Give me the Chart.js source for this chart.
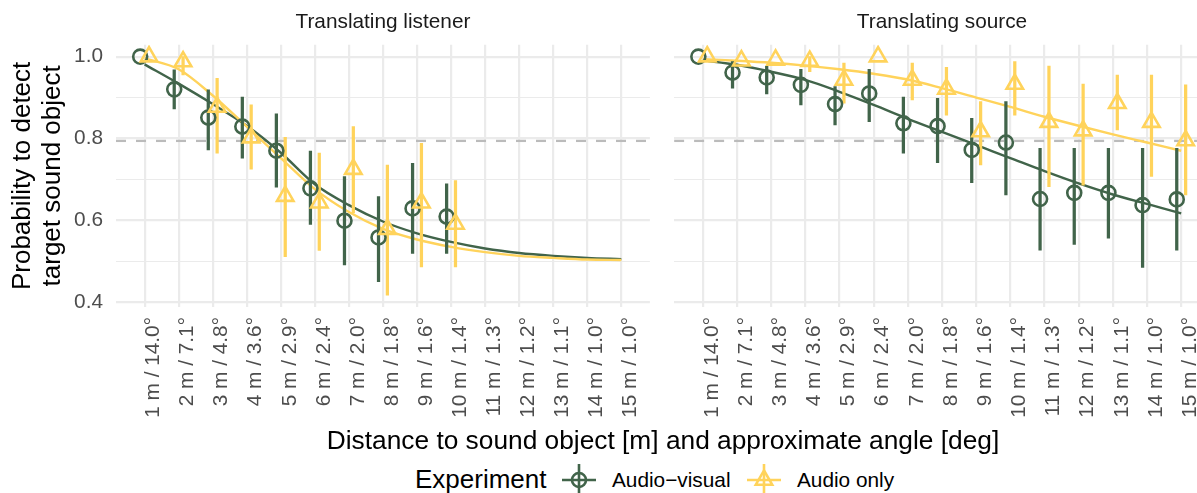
<!DOCTYPE html>
<html>
<head>
<meta charset="utf-8">
<title>Detection probability by distance</title>
<script src="https://cdn.jsdelivr.net/npm/chart.js@4.4.1/dist/chart.umd.min.js"></script>
<style>
  html, body { margin: 0; padding: 0; background: #fff; overflow: hidden; }
  #fig { position: relative; width: 1197px; height: 493px; overflow: hidden;
         font-family: "Liberation Sans", Arial, sans-serif; }
  #panelListener { position: absolute; left: 0; top: 0; }
  #panelSource { position: absolute; left: 662px; top: 0; }
  #xTitle { position: absolute; left: 116px; width: 1094px; top: 425px; line-height: 30px;
            text-align: center; font-size: 26.3px; color: #000; white-space: nowrap; }
  .leg { position: absolute; white-space: nowrap; }
  .legTitle { font-size: 26px; line-height: 30px; color: #000; }
  .legLabel { font-size: 20.8px; line-height: 24px; color: #000; }
</style>
</head>
<body>
<div id="fig">
  <canvas id="panelListener" width="662" height="440"></canvas>
  <canvas id="panelSource" width="560" height="440"></canvas>
  <div id="xTitle">Distance to sound object [m] and approximate angle [deg]</div>
  <div class="leg legTitle" style="left:415px; top:464px;">Experiment</div>
  <svg class="leg" style="left:562px; top:464px;" width="34" height="32">
    <line x1="0" y1="16" x2="34" y2="16" stroke="#41644A" stroke-width="2.6"/>
    <line x1="17" y1="0" x2="17" y2="32" stroke="#41644A" stroke-width="2.6"/>
    <circle cx="17" cy="16" r="7" fill="none" stroke="#41644A" stroke-width="2.6"/>
  </svg>
  <div class="leg legLabel" style="left:612px; top:468px;">Audio−visual</div>
  <svg class="leg" style="left:747px; top:464px;" width="34" height="32">
    <line x1="0" y1="16" x2="34" y2="16" stroke="#FFD35B" stroke-width="2.6"/>
    <line x1="17" y1="0" x2="17" y2="32" stroke="#FFD35B" stroke-width="2.6"/>
    <polygon points="17,6.5 25.2,20.7 8.8,20.7" fill="none" stroke="#FFD35B" stroke-width="2.6"/>
  </svg>
  <div class="leg legLabel" style="left:797px; top:468px;">Audio only</div>
</div>
<script>
// categories and axis labels
const distances = [1, 2, 3, 4, 5, 6, 7, 8, 9, 10, 11, 12, 13, 14, 15];
const xLabels = ['1 m / 14.0°', '2 m / 7.1°', '3 m / 4.8°', '4 m / 3.6°', '5 m / 2.9°',
  '6 m / 2.4°', '7 m / 2.0°', '8 m / 1.8°', '9 m / 1.6°', '10 m / 1.4°',
  '11 m / 1.3°', '12 m / 1.2°', '13 m / 1.1°', '14 m / 1.0°', '15 m / 1.0°'];
const yTickLabels = [0.4, 0.6, 0.8, 1.0];
const threshold = 0.794;

// Translating listener (measured distances 1-10 m)
const listenerAVMean = [1.0, 0.92, 0.851, 0.829, 0.77, 0.678, 0.599, 0.558, 0.629, 0.609];
const listenerAVLow  = [null, 0.872, 0.772, 0.752, 0.681, 0.59, 0.491, 0.45, 0.519, 0.519];
const listenerAVHigh = [null, 0.968, 0.919, 0.901, 0.86, 0.769, 0.707, 0.658, 0.739, 0.689];
const listenerAOMean = [1.0, 0.988, 0.877, 0.802, 0.659, 0.643, 0.725, 0.578, 0.643, 0.591];
const listenerAOLow  = [null, 0.955, 0.764, 0.725, 0.511, 0.526, 0.618, 0.417, 0.486, 0.486];
const listenerAOHigh = [null, 1.0, 0.947, 0.882, 0.803, 0.764, 0.829, 0.735, 0.788, 0.697];
const listenerAVFit = [0.981, 0.934, 0.884, 0.831, 0.765, 0.688, 0.637, 0.597, 0.568, 0.547, 0.531, 0.52, 0.513, 0.508, 0.505];
const listenerAOFit = [0.996, 0.969, 0.905, 0.829, 0.752, 0.676, 0.62, 0.579, 0.553, 0.535, 0.522, 0.513, 0.508, 0.504, 0.503];

// Translating source (distances 1-15 m)
const sourceAVMean = [1.0, 0.961, 0.949, 0.931, 0.884, 0.91, 0.837, 0.83, 0.772, 0.79, 0.652, 0.667, 0.667, 0.637, 0.651];
const sourceAVLow  = [null, 0.923, 0.909, 0.882, 0.833, 0.841, 0.764, 0.741, 0.692, 0.662, 0.527, 0.541, 0.556, 0.485, 0.527];
const sourceAVHigh = [null, 0.988, 0.976, 0.969, 0.927, 0.969, 0.901, 0.898, 0.849, 0.89, 0.776, 0.776, 0.776, 0.776, 0.776];
const sourceAOMean = [1.0, 0.99, 0.992, 0.989, 0.943, 1.0, 0.943, 0.921, 0.817, 0.933, 0.84, 0.819, 0.886, 0.84, 0.795];
const sourceAOLow  = [null, null, null, 0.963, 0.886, null, 0.894, 0.857, 0.735, 0.857, 0.682, 0.686, 0.821, 0.707, 0.662];
const sourceAOHigh = [null, null, null, 1.0, 0.984, null, 0.984, 0.974, 0.89, 0.988, 0.977, 0.933, 0.955, 0.955, 0.931];
const sourceAVFit = [0.991, 0.98, 0.963, 0.943, 0.914, 0.882, 0.848, 0.816, 0.784, 0.752, 0.72, 0.69, 0.663, 0.64, 0.617];
const sourceAOFit = [0.994, 0.99, 0.985, 0.978, 0.969, 0.958, 0.944, 0.923, 0.9, 0.877, 0.853, 0.831, 0.81, 0.79, 0.77];

const GREEN = '#41644A';
const YELLOW = '#FFD35B';
const xMin = 0.16, xMax = 15.84;
const yMin = 0.388, yMax = 1.029;
const dodge = 0.13;

Chart.defaults.font.family = '"Liberation Sans", Arial, sans-serif';

function pointData(mean, shift) {
  return mean.map((m, i) => ({ x: distances[i] + shift, y: m }));
}

function barData(low, high, shift) {
  const out = [];
  low.forEach((lo, i) => {
    if (lo !== null && high[i] !== null) out.push({ x: distances[i] + shift, y: [lo, high[i]] });
  });
  return out;
}

function lineData(values) {
  return values.map((v, i) => ({ x: distances[i], y: v }));
}

function makePanel(canvasId, title, d, showY, rightPad) {
  const ctx = document.getElementById(canvasId).getContext('2d');
  return new Chart(ctx, {
    type: 'scatter',
    data: {
      datasets: [
        { type: 'scatter', data: pointData(d.aoMean, dodge), pointStyle: 'triangle', pointRadius: 9.5,
          borderColor: YELLOW, backgroundColor: 'rgba(0,0,0,0)', borderWidth: 2.6, order: 0 },
        { type: 'scatter', data: pointData(d.avMean, -dodge), pointStyle: 'circle', pointRadius: 7,
          borderColor: GREEN, backgroundColor: 'rgba(0,0,0,0)', borderWidth: 2.6, order: 1 },
        { type: 'bar', data: barData(d.aoLow, d.aoHigh, dodge), backgroundColor: YELLOW,
          barThickness: 2.6, grouped: false, borderWidth: 0, order: 2 },
        { type: 'bar', data: barData(d.avLow, d.avHigh, -dodge), backgroundColor: GREEN,
          barThickness: 2.6, grouped: false, borderWidth: 0, order: 3 },
        { type: 'line', data: lineData(d.aoFit), borderColor: YELLOW, borderWidth: 2.4,
          pointRadius: 0, cubicInterpolationMode: 'monotone', fill: false, order: 4 },
        { type: 'line', data: lineData(d.avFit), borderColor: GREEN, borderWidth: 2.4,
          pointRadius: 0, cubicInterpolationMode: 'monotone', fill: false, order: 5 },
        { type: 'line', data: [{ x: xMin, y: threshold }, { x: xMax, y: threshold }],
          borderColor: '#BBBBBB', borderWidth: 2.3, borderDash: [10, 10], pointRadius: 0, order: 6 }
      ]
    },
    options: {
      responsive: false,
      animation: false,
      devicePixelRatio: 1,
      layout: { padding: { left: 0, right: rightPad, top: 0, bottom: 0 } },
      plugins: {
        legend: { display: false },
        tooltip: { enabled: false },
        title: {
          display: true, text: title, fullSize: false, color: '#1a1a1a',
          font: { size: 20.8, weight: 'normal' }, padding: { top: 9.6, bottom: 10.2 }
        }
      },
      scales: {
        x: {
          type: 'linear', min: xMin, max: xMax, offset: false,
          grid: { offset: false, color: '#EBEBEB', lineWidth: 2.2, drawTicks: false },
          border: { display: false },
          ticks: {
            stepSize: 1, includeBounds: false, autoSkip: false, minRotation: 90, maxRotation: 90,
            padding: 10, labelOffset: 9, color: '#4D4D4D', font: { size: 20.8 },
            callback: v => Number.isInteger(v) ? xLabels[v - 1] : ''
          },
          afterFit: s => { s.height = 133; s.paddingLeft = 0; s.paddingRight = 0; }
        },
        y: {
          type: 'linear', min: yMin, max: yMax, beginAtZero: false,
          grid: {
            color: '#EBEBEB', drawTicks: false,
            lineWidth: c => (Math.round(c.tick.value * 10) % 2 === 0 ? 2.2 : 1.1)
          },
          border: { display: false },
          ticks: {
            stepSize: 0.1, includeBounds: false, display: showY, padding: 13,
            color: '#4D4D4D', font: { size: 20.8 },
            callback: v => yTickLabels.some(t => Math.abs(t - v) < 1e-6) ? v.toFixed(1) : ''
          },
          title: {
            display: showY, text: ['Probability to detect', 'target sound object'], color: '#000',
            font: { size: 26, lineHeight: 1.154 }, padding: { top: 7.6, bottom: 0 }
          },
          afterFit: s => { s.width = showY ? 116 : 8; }
        }
      }
    }
  });
}

makePanel('panelListener', 'Translating listener', {
  avMean: listenerAVMean, avLow: listenerAVLow, avHigh: listenerAVHigh,
  aoMean: listenerAOMean, aoLow: listenerAOLow, aoHigh: listenerAOHigh,
  avFit: listenerAVFit, aoFit: listenerAOFit
}, true, 6);

makePanel('panelSource', 'Translating source', {
  avMean: sourceAVMean, avLow: sourceAVLow, avHigh: sourceAVHigh,
  aoMean: sourceAOMean, aoLow: sourceAOLow, aoHigh: sourceAOHigh,
  avFit: sourceAVFit, aoFit: sourceAOFit
}, false, 12);
</script>
</body>
</html>
